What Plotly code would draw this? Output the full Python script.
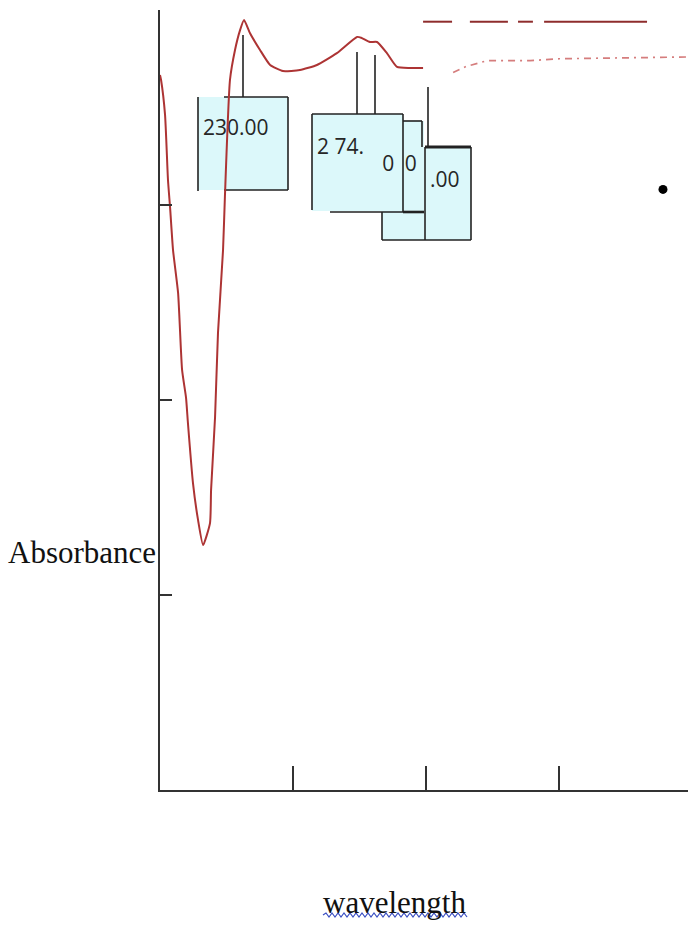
import plotly.graph_objects as go

# ---------------- data ----------------
wavelength = [200.0, 200.4, 201.9, 203.0, 203.8, 204.9, 206.8, 208.3, 209.8, 210.5,
              212.4, 214.3, 216.2, 218.8, 219.2, 220.7, 221.8, 223.7, 224.4, 226.3,
              228.2, 230.1, 231.6, 233.8, 237.6, 241.4, 246.2, 252.6, 259.0, 266.5,
              274.1, 275.9, 278.9, 281.6, 285.3, 289.1, 294.0, 298.9]
absorbance = [3.667, 3.641, 3.462, 3.128, 2.985, 2.769, 2.549, 2.154, 2.010, 1.882,
              1.574, 1.385, 1.256, 1.369, 1.538, 1.913, 2.344, 2.769, 3.041, 3.641,
              3.795, 3.897, 3.949, 3.882, 3.795, 3.718, 3.687, 3.692, 3.718, 3.779,
              3.862, 3.856, 3.836, 3.836, 3.779, 3.708, 3.703, 3.703]

# dashed upper trace (segments separated by None)
ref_wl = [298.9, 309.8, None, 316.5, 330.8, None, 334.6, 340.2, None, 344.4, 383.1]
ref_abs = [3.94, 3.94, None, 3.94, 3.94, None, 3.94, 3.94, None, 3.94, 3.94]

# faint dotted baseline trace
base_wl = [310.2, 315.0, 322.9, 330.0, 339.1, 350.0, 365.4, 380.0, 398.1]
base_abs = [3.68, 3.71, 3.74, 3.74, 3.74, 3.75, 3.754, 3.757, 3.759]

# isolated point
dot_wl = [389.1]
dot_abs = [3.08]

# peak label texts
label_text = ["230.00", "2 74.", "0", "0", ".00"]
label_wl = [216.2, 259.0, 283.6, 292.0, 301.5]
label_abs = [3.385, 3.29, 3.20, 3.20, 3.12]

# tick values
x_ticks = [200, 250, 300, 350]
y_ticks = [0, 1, 2, 3, 4]

X_RANGE = [200, 398.5]
Y_RANGE = [0, 4]

# ---------------- geometry helpers (decoration only) ----------------
L, T, W, H = 160, 10, 528, 780


def px(xp):
    return (xp - L) / W


def py(yp):
    return (T + H - yp) / H


fill = "#dcf8fa"
edge = "#222222"

fig = go.Figure()

# label text (drawn first so the curve passes over it)
fig.add_trace(go.Scatter(
    x=label_wl, y=label_abs, mode="text", text=label_text,
    textposition="middle right",
    textfont=dict(family="Open Sans", size=21, color="#262626"),
    hoverinfo="skip", showlegend=False))

fig.add_trace(go.Scatter(
    x=base_wl, y=base_abs, mode="lines",
    line=dict(color="rgba(195,70,70,0.7)", width=1.7, dash="7px,5px,2px,5px"),
    showlegend=False))

fig.add_trace(go.Scatter(
    x=ref_wl, y=ref_abs, mode="lines",
    line=dict(color="#8e2c2c", width=2),
    connectgaps=False, showlegend=False))

fig.add_trace(go.Scatter(
    x=wavelength, y=absorbance, mode="lines",
    line=dict(color="#ad3434", width=2, shape="spline", smoothing=0.5),
    showlegend=False))

fig.add_trace(go.Scatter(
    x=dot_wl, y=dot_abs, mode="markers",
    marker=dict(color="black", size=9), showlegend=False))

shapes = []


def rect(x0, y0, x1, y1):
    shapes.append(dict(type="rect", xref="paper", yref="paper", layer="below",
                       x0=px(x0), x1=px(x1), y0=py(y0), y1=py(y1),
                       fillcolor=fill, line=dict(width=0)))


def seg(x0, y0, x1, y1, w=1.6):
    shapes.append(dict(type="line", xref="paper", yref="paper", layer="below",
                       x0=px(x0), x1=px(x1), y0=py(y0), y1=py(y1),
                       line=dict(color=edge, width=w)))


# boxes (back to front)
rect(382, 121, 424, 240)
rect(198, 97, 288, 190)
rect(312, 114, 403, 211)
rect(425, 147, 471, 240)

# box 1 borders
seg(198, 97, 198, 191)
seg(224, 97, 288, 97)
seg(288, 97, 288, 190)
seg(224, 190, 288, 190)
# box 2 borders
seg(312, 114, 312, 210)
seg(312, 114, 403, 114)
seg(403, 114, 403, 212)
seg(330, 212, 403, 212)
seg(403, 212, 424, 212, 2.6)
# back box borders
seg(403, 121, 422, 121)
seg(422, 121, 422, 147)
seg(382, 212, 382, 240)
seg(382, 240, 425, 240)
# box D borders
seg(425, 147, 471, 147, 2.8)
seg(425, 147, 425, 240)
seg(471, 147, 471, 240)
seg(425, 240, 471, 240)
# peak marker lines
seg(243, 35, 243, 97)
seg(357, 52, 357, 114)
seg(375, 55, 375, 114)
seg(428, 87, 428, 147)

# wavy spell-check underline under the x title
path = "M {:.5f},{:.5f}".format(px(323), py(915))
xw = 323
up = True
while xw < 466:
    xw += 3
    path += " L {:.5f},{:.5f}".format(px(xw), py(913 if up else 917))
    up = not up
shapes.append(dict(type="path", xref="paper", yref="paper", path=path,
                   line=dict(color="#3b4fc2", width=1.2)))

fig.update_layout(
    width=688, height=928,
    margin=dict(l=L, r=0, t=T, b=928 - T - H),
    paper_bgcolor="white", plot_bgcolor="white",
    showlegend=False,
    shapes=shapes,
    xaxis=dict(range=X_RANGE, showgrid=False, zeroline=False,
               showline=True, linecolor="#333", linewidth=2,
               ticks="inside", ticklen=24, tickwidth=2, tickcolor="#333",
               tickvals=x_ticks, showticklabels=False),
    yaxis=dict(range=Y_RANGE, showgrid=False, zeroline=False,
               showline=True, linecolor="#333", linewidth=2,
               ticks="inside", ticklen=12, tickwidth=2, tickcolor="#333",
               tickvals=y_ticks, showticklabels=False),
    annotations=[
        dict(text="Absorbance", xref="paper", yref="paper",
             x=px(158), y=py(552), xanchor="right", yanchor="middle",
             showarrow=False,
             font=dict(family="Liberation Serif", size=31, color="#111")),
        dict(text="wavelength", xref="paper", yref="paper",
             x=px(394), y=py(902), xanchor="center", yanchor="middle",
             showarrow=False,
             font=dict(family="Liberation Serif", size=31, color="#111")),
    ],
)

fig.write_html("out.html")
